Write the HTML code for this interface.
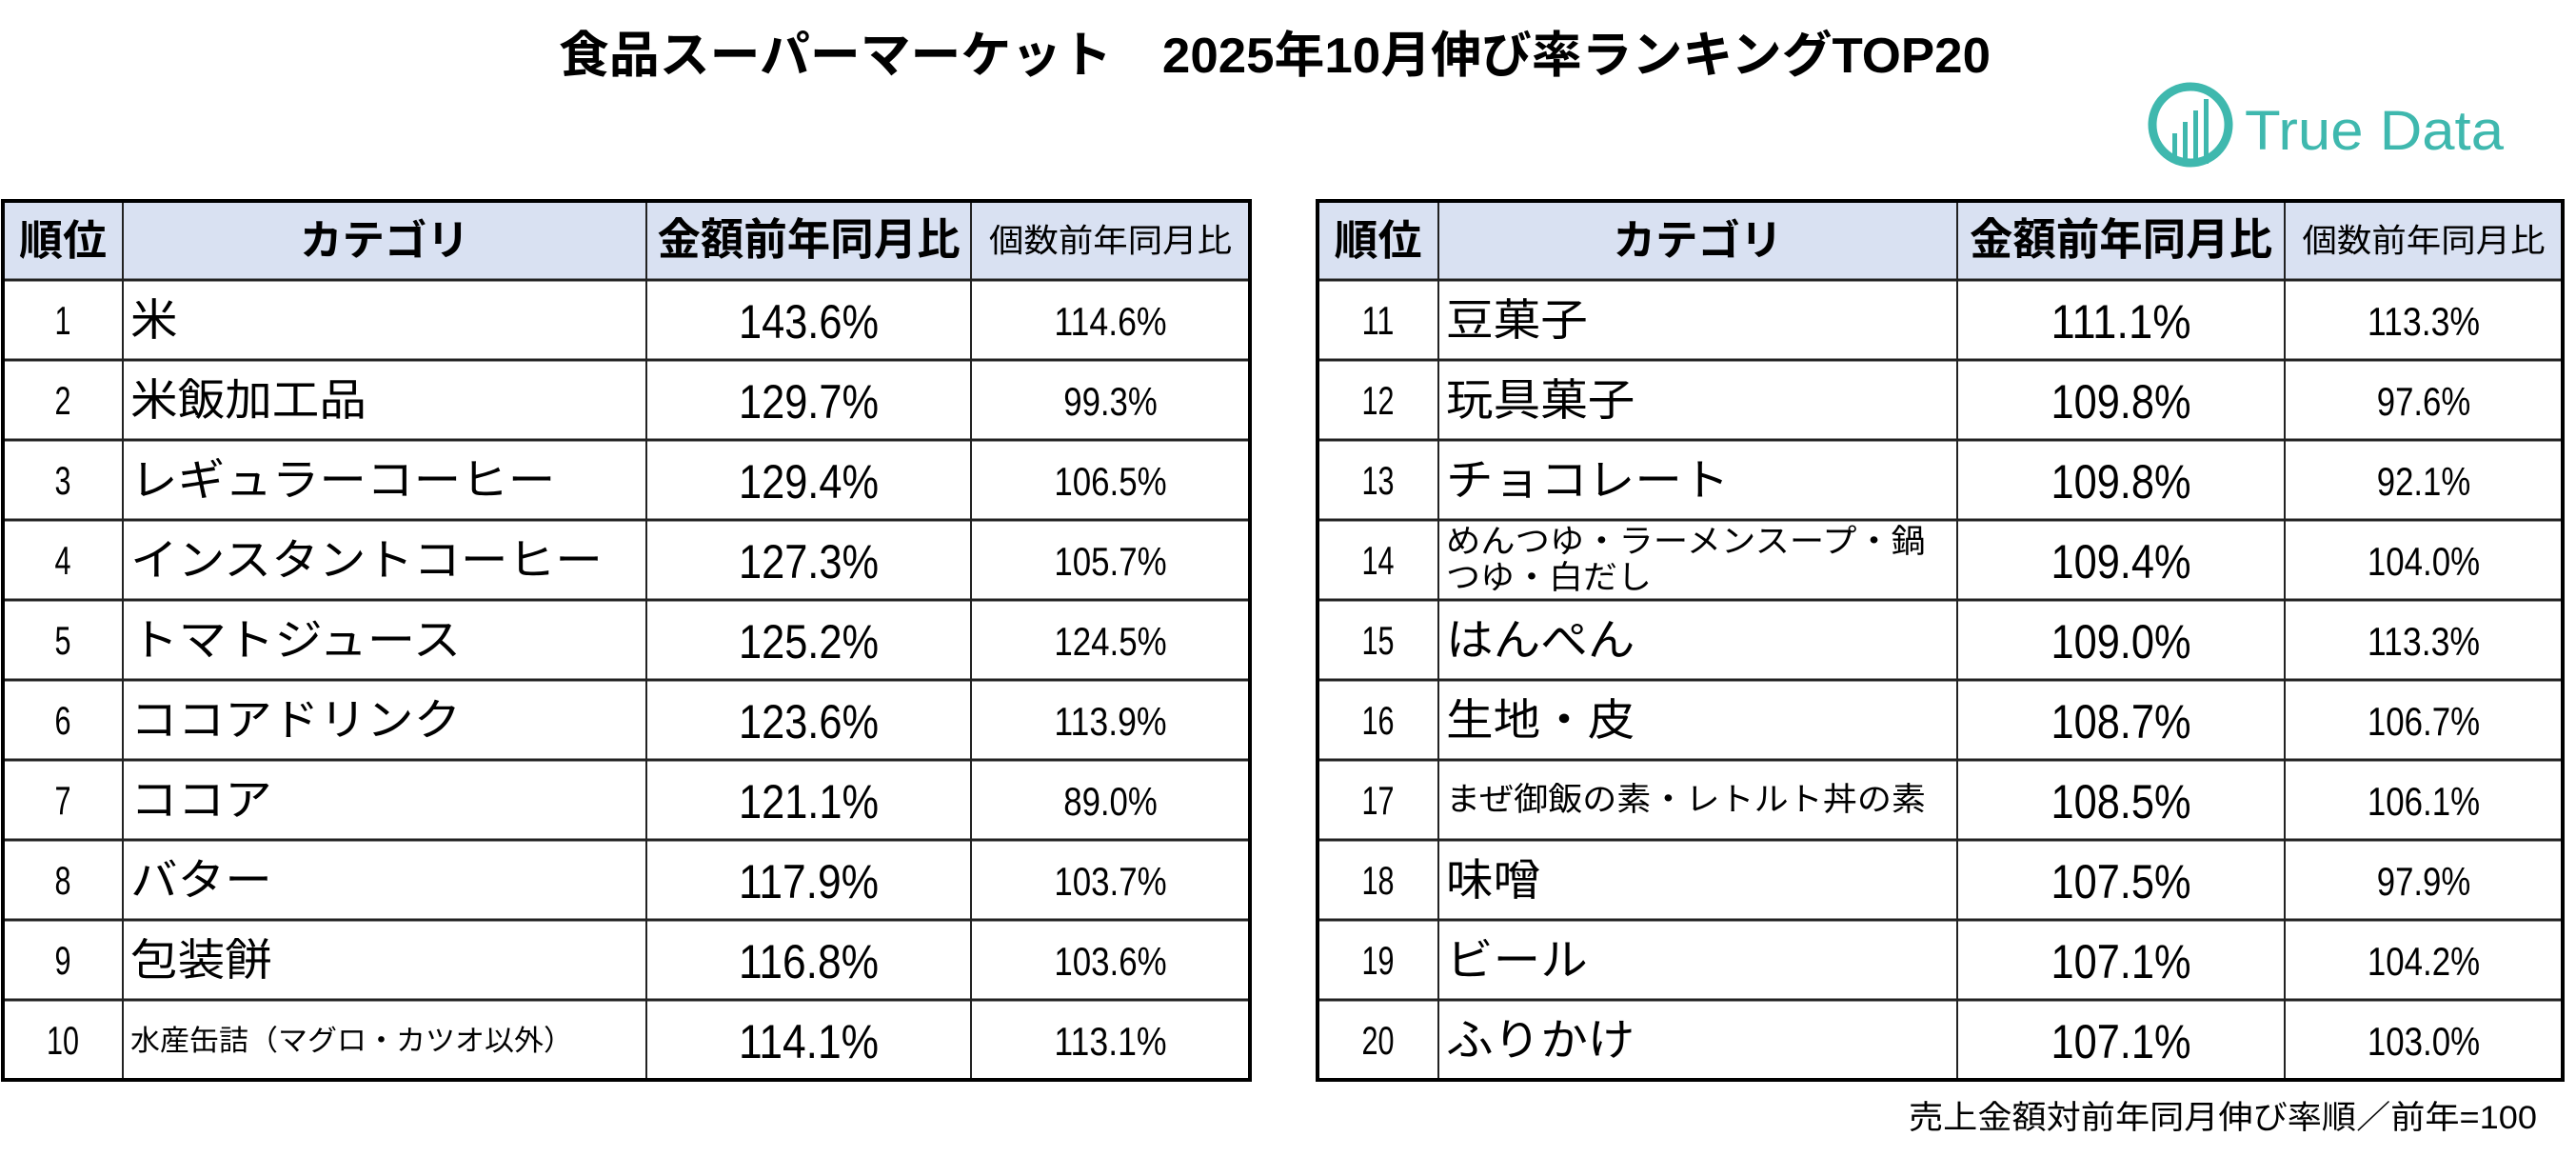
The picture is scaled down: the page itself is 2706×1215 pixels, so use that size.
<!DOCTYPE html>
<html><head><meta charset="utf-8"><style>
html,body{margin:0;padding:0;background:#fff;}
svg{display:block;}
text{font-family:"Liberation Sans","Noto Sans CJK JP",sans-serif;fill:#000;}
</style></head><body>
<svg id="chart" width="2706" height="1215" viewBox="0 0 2706 1215" xmlns="http://www.w3.org/2000/svg">
<rect width="2706" height="1215" fill="#fff"/>
<text x="587" y="76" font-size="52" font-weight="bold" textLength="1504" lengthAdjust="spacingAndGlyphs">食品スーパーマーケット　2025年10月伸び率ランキングTOP20</text>
<g>
<circle cx="2301" cy="131" r="40" fill="none" stroke="#3fb8ae" stroke-width="9"/>
<rect x="2282" y="140" width="5" height="30" fill="#3fb8ae"/>
<rect x="2293" y="128" width="5" height="44" fill="#3fb8ae"/>
<rect x="2304" y="116" width="5" height="58" fill="#3fb8ae"/>
<rect x="2315" y="104" width="5" height="68" fill="#3fb8ae"/>
<text x="2358" y="157" font-size="58" style="fill:#3fb8ae" textLength="272" lengthAdjust="spacingAndGlyphs">True Data</text>
</g>
<g id="tables"></g>
<text x="2005" y="1185" font-size="34" textLength="660" lengthAdjust="spacingAndGlyphs">売上金額対前年同月伸び率順／前年=100</text>
</svg>
<script>
const ranks = [1,2,3,4,5,6,7,8,9,10,11,12,13,14,15,16,17,18,19,20];
const categories = ["米","米飯加工品","レギュラーコーヒー","インスタントコーヒー","トマトジュース","ココアドリンク","ココア","バター","包装餅","水産缶詰（マグロ・カツオ以外）","豆菓子","玩具菓子","チョコレート","めんつゆ・ラーメンスープ・鍋|つゆ・白だし","はんぺん","生地・皮","まぜ御飯の素・レトルト丼の素","味噌","ビール","ふりかけ"];
const amountYoY = [143.6,129.7,129.4,127.3,125.2,123.6,121.1,117.9,116.8,114.1,111.1,109.8,109.8,109.4,109.0,108.7,108.5,107.5,107.1,107.1];
const countYoY = [114.6,99.3,106.5,105.7,124.5,113.9,89.0,103.7,103.6,113.1,113.3,97.6,92.1,104.0,113.3,106.7,106.1,97.9,104.2,103.0];
const headers = ["順位","カテゴリ","金額前年同月比","個数前年同月比"];

const NS="http://www.w3.org/2000/svg";
const root=document.getElementById('tables');
function mk(tag,attrs,parent){const e=document.createElementNS(NS,tag);for(const k in attrs)e.setAttribute(k,attrs[k]);parent.appendChild(e);return e;}
const tables=[{cols:[3,129,679,1020,1313]},{cols:[1384,1511,2056,2400,2692]}];
const tableTop=211, headH=83, rowH=84;
tables.forEach((t,ti)=>{
  const g=mk('g',{},root);
  
  
  const c=t.cols, bottom=tableTop+headH+rowH*10;
  const hb=mk('rect',{x:c[0],y:tableTop,width:c[4]-c[0],height:headH,fill:'#d9e1f2'},g);
  
  
  const hx=[(c[0]+c[1])/2,(c[1]+c[2])/2,(c[2]+c[3])/2,(c[3]+c[4])/2];
  const hl=[92,178,318,255], hs=[44,44,46,34];
  headers.forEach((h,i)=>{
    const tx=mk('text',{x:hx[i],y:tableTop+headH/2+(i==3?12:15),'font-size':hs[i],'font-weight':i==3?'normal':'bold','text-anchor':'middle',textLength:hl[i],lengthAdjust:'spacingAndGlyphs'},g);
    tx.textContent=h;
    
    
  });
  for(let r=0;r<10;r++){
    const idx=ti*10+r;
    const y0=tableTop+headH+r*rowH, cy=y0+rowH/2;
    const row=mk('g',{},g);
    
    
    const rk=mk('text',{x:hx[0],y:cy+15,'font-size':42,'text-anchor':'middle',textLength:String(ranks[idx]).length*17,lengthAdjust:'spacingAndGlyphs'},row);
    rk.textContent=ranks[idx];
    const name=categories[idx];
    const parts=name.split('|');
    if(parts.length>1){
      parts.forEach((p,pi)=>{
        const t2=mk('text',{x:c[1]+8,y:cy-8+pi*38,'font-size':34,textLength:p.length*36,lengthAdjust:'spacingAndGlyphs'},row);
        t2.textContent=p;
      });
    } else {
      const len=name.length;
      let fs=46, per=49.6, dy=16;
      if(len>=14){fs=len>=15?30:34; per=len>=15?31:36; dy=11;}
      const t2=mk('text',{x:c[1]+8,y:cy+dy,'font-size':fs,textLength:len*per,lengthAdjust:'spacingAndGlyphs'},row);
      t2.textContent=name;
    }
    const a=amountYoY[idx].toFixed(1)+'%';
    const ta=mk('text',{x:hx[2],y:cy+19,'font-size':50,'text-anchor':'middle',textLength:a.length*24.5,lengthAdjust:'spacingAndGlyphs'},row);
    ta.textContent=a;
    const cc=countYoY[idx].toFixed(1)+'%';
    const tc=mk('text',{x:hx[3],y:cy+16,'font-size':42,'text-anchor':'middle',textLength:cc.length*19.7,lengthAdjust:'spacingAndGlyphs'},row);
    tc.textContent=cc;
  }
  for(let r=1;r<=10;r++){
    const y=tableTop+headH+(r-1)*rowH;
    mk('line',{x1:c[0],x2:c[4],y1:y,y2:y,stroke:'#222','stroke-width':3},g);
  }
  for(let i=1;i<4;i++) mk('line',{x1:c[i],x2:c[i],y1:tableTop,y2:bottom,stroke:'#222','stroke-width':2},g);
  mk('rect',{x:c[0],y:tableTop,width:c[4]-c[0],height:bottom-tableTop,fill:'none',stroke:'#000','stroke-width':4},g);
});
</script>
</body></html>
